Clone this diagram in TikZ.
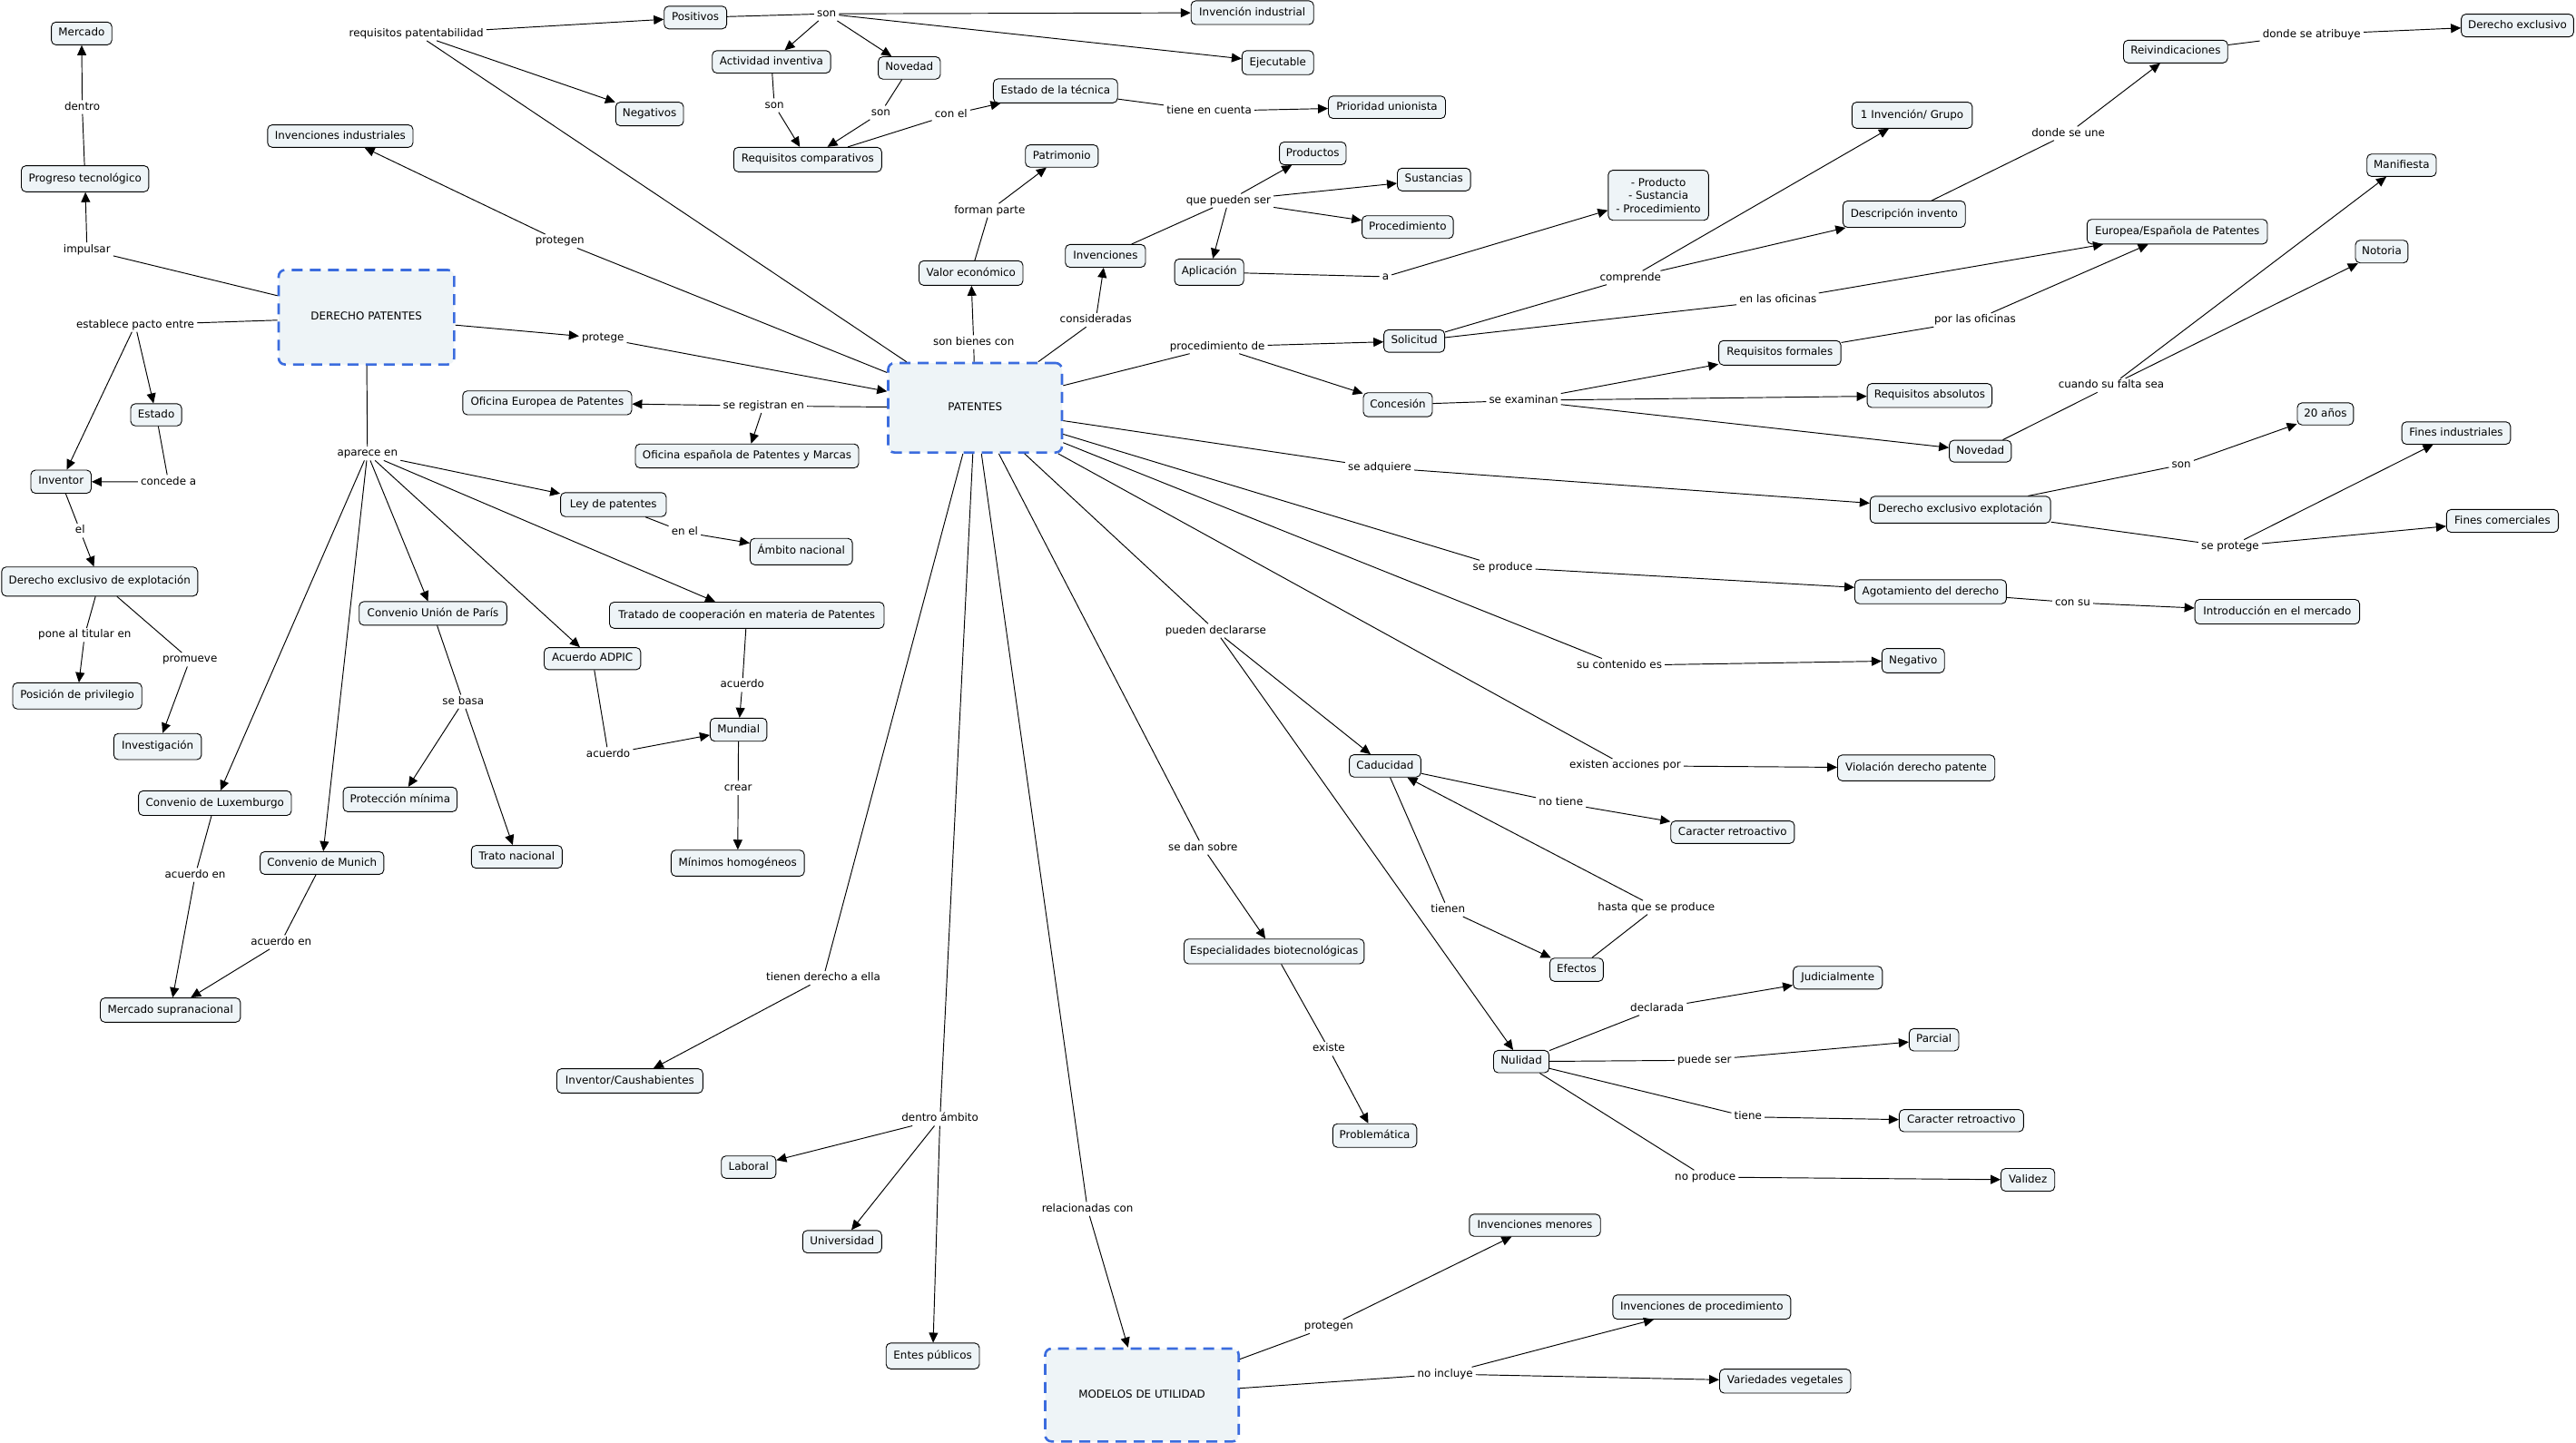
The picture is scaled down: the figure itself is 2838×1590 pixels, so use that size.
\documentclass[tikz,border=0pt]{standalone}
\usepackage{fontspec}
\setmainfont{DejaVu Sans}
\usetikzlibrary{arrows.meta}
\definecolor{nodefill}{RGB}{238,244,247}
\definecolor{hubblue}{RGB}{59,108,222}
\newcommand\myfs{\fontsize{11.9}{14.5}\selectfont}
\tikzset{
  boxbase/.style={draw=black, line width=0.9pt, fill=nodefill, rounded corners=5pt, inner sep=0pt, font=\myfs},
  cbox/.style={boxbase, text height=8.6pt, text depth=2.4pt},
  mbox/.style={boxbase, align=center},
  hub/.style={draw=hubblue, line width=2.6pt, dash pattern=on 12pt off 8pt, fill=nodefill, rounded corners=7pt, inner sep=0pt, font=\myfs, text height=8.6pt, text depth=2.4pt},
  lbl/.style={font=\myfs, text height=8.6pt, text depth=2.4pt, inner xsep=3pt, inner ysep=2pt},
  ln/.style={draw=black, line width=0.95pt},
  ar/.style={ln, -{Triangle[length=11pt,width=10pt]}},
}
\newcommand\mybx[7][cbox]{\node[#1,minimum width={(#5-#3)*1pt},minimum height={(#6-#4)*1pt}] (#2) at ({(#3+#5)/2},{(#4+#6)/2}) {#7};}
\newcommand\mylb[4]{\node[lbl] (#1) at (#2,#3) {#4};}
\begin{document}
\begin{tikzpicture}[x=1pt,y=-1pt]
\fill[white] (0,0) rectangle (2838,1590);
\useasboundingbox (0,0) rectangle (2838,1590);
% hubs
\mybx[hub]{dp}{307}{297.5}{500.3}{401.6}{DERECHO PATENTES}
\mybx[hub]{pat}{978.5}{400}{1170}{498.6}{PATENTES}
\mybx[hub]{mu}{1151.5}{1486}{1364.7}{1588.3}{MODELOS DE UTILIDAD}
% concept boxes
\mybx{mercado}{56.6}{24.3}{123.2}{49.4}{Mercado}
\mybx{progreso}{23.5}{182.6}{163.9}{211.3}{Progreso tecnológico}
\mybx{invind}{294.8}{137.6}{455}{162.3}{Invenciones industriales}
\mybx{negativos}{678.3}{112.6}{753}{138.6}{Negativos}
\mybx{estado}{144}{444.9}{200.1}{469.2}{Estado}
\mybx{inventor}{34}{518}{100.5}{543.5}{Inventor}
\mybx{dee}{1.8}{624.7}{217.8}{656.8}{Derecho exclusivo de explotación}
\mybx{posicion}{14}{752.4}{156.2}{781.2}{Posición de privilegio}
\mybx{investigacion}{125.4}{808.2}{221.9}{837}{Investigación}
\mybx{luxemburgo}{152.6}{871.4}{321}{898.5}{Convenio de Luxemburgo}
\mybx{munich}{286.6}{938.4}{422.9}{963.4}{Convenio de Munich}
\mybx{mercsup}{110.5}{1099.6}{264.9}{1126.3}{Mercado supranacional}
\mybx{paris}{395.7}{662.9}{558.3}{688.9}{Convenio Unión de París}
\mybx{proteccion}{378.1}{867.4}{503.5}{894.4}{Protección mínima}
\mybx{trato}{519.3}{931.6}{619.4}{956.6}{Trato nacional}
\mybx{adpic}{599.5}{713.6}{705.9}{737.9}{Acuerdo ADPIC}
\mybx{ley}{617.6}{542.8}{734}{569.2}{Ley de patentes}
\mybx{ambito}{826.4}{593.2}{939.1}{622.3}{Ámbito nacional}
\mybx{tratado}{671.5}{663.5}{974}{692.3}{Tratado de cooperación en materia de Patentes}
\mybx{mundial}{782.4}{791.3}{844.9}{816.7}{Mundial}
\mybx{minimos}{739.4}{936.7}{886.1}{965.4}{Mínimos homogéneos}
\mybx{ofeur}{509.8}{430.7}{696}{457}{Oficina Europea de Patentes}
\mybx{ofesp}{700}{489.2}{946}{515.6}{Oficina española de Patentes y Marcas}
\mybx{positivos}{731.7}{6.8}{800.6}{31.8}{Positivos}
\mybx{invind2}{1312.2}{0.9}{1447.2}{27}{Invención industrial}
\mybx{actinv}{784.7}{55.8}{915.1}{80.5}{Actividad inventiva}
\mybx{novedad1}{967.6}{62.5}{1036}{87.2}{Novedad}
\mybx{ejecutable}{1368.4}{55.8}{1447.2}{82.2}{Ejecutable}
\mybx{estadotec}{1094.4}{86.9}{1231.2}{113.3}{Estado de la técnica}
\mybx{reqcomp}{808.3}{162.3}{971.3}{189.3}{Requisitos comparativos}
\mybx{prioridad}{1463.5}{105.8}{1592.5}{130.5}{Prioridad unionista}
\mybx{patrimonio}{1129.7}{159.6}{1209.9}{184.2}{Patrimonio}
\mybx{valor}{1012.5}{287.4}{1127}{314.4}{Valor económico}
\mybx{invenciones}{1173.7}{269.4}{1262}{294.5}{Invenciones}
\mybx{aplicacion}{1294.1}{285.3}{1370.2}{314.4}{Aplicación}
\mybx{productos}{1409.6}{156.5}{1483}{181.5}{Productos}
\mybx{sustancias}{1539.5}{185.3}{1620.1}{210.3}{Sustancias}
\mybx{procedimiento}{1500.6}{237.7}{1601.1}{262.7}{Procedimiento}
\mybx[mbox]{pspx}{1771.8}{187.6}{1882.3}{242.7}{- Producto\\- Sustancia\\- Procedimiento}
\mybx{solicitud}{1524.6}{363.4}{1591.6}{388.1}{Solicitud}
\mybx{concesion}{1502}{432.7}{1578}{459.1}{Concesión}
\mybx{invgrupo}{2040.3}{112.6}{2172.9}{141.3}{1 Invención/ Grupo}
\mybx{descripcion}{2030.4}{221.4}{2165.2}{250.5}{Descripción invento}
\mybx{reqform}{1893.6}{375.3}{2028.1}{402.3}{Requisitos formales}
\mybx{reqabs}{2057.1}{422.6}{2194.6}{449}{Requisitos absolutos}
\mybx{reivind}{2339.5}{44.3}{2454.2}{69.3}{Reivindicaciones}
\mybx{dexcl}{2711.6}{15.6}{2835.3}{40.6}{Derecho exclusivo}
\mybx{eurespa}{2299.3}{241.7}{2498}{268.8}{Europea/Española de Patentes}
\mybx{manifiesta}{2607.7}{169.7}{2684}{194.4}{Manifiesta}
\mybx{notoria}{2595}{264.7}{2652.9}{289.7}{Notoria}
\mybx{novedad2}{2147.6}{485.1}{2215.8}{509.1}{Novedad}
\mybx{anos}{2531}{443.9}{2592.8}{468.2}{20 años}
\mybx{finind}{2646.1}{464.8}{2765.8}{489.5}{Fines industriales}
\mybx{dexpl}{2060.3}{546.9}{2259.1}{576.3}{Derecho exclusivo explotación}
\mybx{fincom}{2695.3}{561.4}{2818.6}{586.5}{Fines comerciales}
\mybx{agot}{2043.5}{638.9}{2210.4}{665.2}{Agotamiento del derecho}
\mybx{intro}{2418.1}{660.5}{2599.6}{687.5}{Introducción en el mercado}
\mybx{negativo}{2073.4}{714.6}{2142.2}{741.3}{Negativo}
\mybx{violacion}{2024.5}{831.9}{2197.7}{860.3}{Violación derecho patente}
\mybx{caducidad}{1486.6}{831.6}{1565.3}{856.2}{Caducidad}
\mybx{caracter1}{1840.7}{904.6}{1976.9}{929.3}{Caracter retroactivo}
\mybx{efectos}{1707.5}{1055.7}{1766.4}{1081.3}{Efectos}
\mybx{especial}{1304.5}{1034.7}{1502.9}{1062}{Especialidades biotecnológicas}
\mybx{problematica}{1468.4}{1238.2}{1560.8}{1264.2}{Problemática}
\mybx{nulidad}{1645.5}{1157.4}{1706.6}{1182}{Nulidad}
\mybx{judicial}{1975.6}{1064.7}{2073.8}{1089.8}{Judicialmente}
\mybx{parcial}{2103.3}{1133.4}{2158}{1158}{Parcial}
\mybx{caracter2}{2092.4}{1222.6}{2229.3}{1247}{Caracter retroactivo}
\mybx{validez}{2204.5}{1287.5}{2263.7}{1312.5}{Validez}
\mybx{invmen}{1618.8}{1337.9}{1763.2}{1362.2}{Invenciones menores}
\mybx{invproc}{1776.8}{1426.8}{1972.9}{1453.5}{Invenciones de procedimiento}
\mybx{variedades}{1894.5}{1508.6}{2039}{1535}{Variedades vegetales}
\mybx{causa}{613.5}{1177.6}{774.3}{1204.4}{Inventor/Caushabientes}
\mybx{laboral}{794.7}{1273.7}{854.9}{1298.3}{Laboral}
\mybx{universidad}{884.3}{1355.8}{971.3}{1380.5}{Universidad}
\mybx{entes}{976.2}{1479.9}{1079}{1508.3}{Entes públicos}
% linking phrases
\mylb{ldentro}{90.6}{118}{dentro}
\mylb{limpulsar}{95.8}{274.9}{impulsar}
\mylb{lest}{149}{358}{establece pacto entre}
\mylb{lconcede}{185.6}{531}{concede a}
\mylb{lel}{88.3}{584.8}{el}
\mylb{lpone}{93.3}{699.7}{pone al titular en}
\mylb{lpromueve}{209.2}{726.8}{promueve}
\mylb{laparece}{404.8}{499.7}{aparece en}
\mylb{lenel}{754.4}{586.5}{en el}
\mylb{lsebasa}{510.3}{773.1}{se basa}
\mylb{lacua}{670.1}{830.9}{acuerdo}
\mylb{lacub}{817.8}{754.8}{acuerdo}
\mylb{lcrear}{813.2}{868.4}{crear}
\mylb{lacena}{215.1}{964.1}{acuerdo en}
\mylb{lacenb}{309.7}{1038.1}{acuerdo en}
\mylb{lprotegen}{616.7}{265.7}{protegen}
\mylb{lprotege}{664.2}{372.6}{protege}
\mylb{lreq}{458.7}{37.2}{requisitos patentabilidad}
\mylb{lsona}{910.6}{15.2}{son}
\mylb{lsonb}{853.1}{116}{son}
\mylb{lsonc}{970.4}{124.1}{son}
\mylb{lconel}{1047.8}{126.1}{con el}
\mylb{ltiene}{1332.1}{122.4}{tiene en cuenta}
\mylb{lregistran}{841.3}{447.3}{se registran en}
\mylb{lbienes}{1072.7}{377}{son bienes con}
\mylb{lforman}{1090.3}{231.9}{forman parte}
\mylb{lconsid}{1207.2}{352.6}{consideradas}
\mylb{lpueden}{1353.4}{221.1}{que pueden ser}
\mylb{la}{1526.4}{304.9}{a}
\mylb{lproc}{1341.2}{382}{procedimiento de}
\mylb{lcomprende}{1796.3}{306}{comprende}
\mylb{lenlas}{1958.8}{330.6}{en las oficinas}
\mylb{lporlas}{2176}{352.6}{por las oficinas}
\mylb{lune}{2278.6}{147}{donde se une}
\mylb{latribuye}{2546.8}{37.9}{donde se atribuye}
\mylb{lexaminan}{1678.5}{441.2}{se examinan}
\mylb{lcuando}{2326}{424.6}{cuando su falta sea}
\mylb{ladquiere}{1520}{515.2}{se adquiere}
\mylb{lsond}{2403.2}{512.2}{son}
\mylb{lseprot}{2456.9}{602.3}{se protege}
\mylb{lproduce}{1655.5}{625}{se produce}
\mylb{lconsu}{2283.5}{663.9}{con su}
\mylb{lcontenido}{1784}{733.2}{su contenido es}
\mylb{lacciones}{1790.4}{843.7}{existen acciones por}
\mylb{ldeclararse}{1339.4}{695}{pueden declararse}
\mylb{lnotiene}{1719.7}{884.6}{no tiene}
\mylb{ltienen}{1595.2}{1002.3}{tienen}
\mylb{lhasta}{1824.8}{999.9}{hasta que se produce}
\mylb{ldan}{1325.3}{934}{se dan sobre}
\mylb{lexiste}{1463.9}{1155.7}{existe}
\mylb{ldeclarada}{1825.7}{1111}{declarada}
\mylb{lpuede}{1877.8}{1168.2}{puede ser}
\mylb{ltieneb}{1925.8}{1230.7}{tiene}
\mylb{lnoprod}{1878.7}{1297}{no produce}
\mylb{lderecho}{907}{1077.6}{tienen derecho a ella}
\mylb{lambito}{1035.6}{1232.8}{dentro ámbito}
\mylb{lrelac}{1198.1}{1332.1}{relacionadas con}
\mylb{lprotegenb}{1463.9}{1461.6}{protegen}
\mylb{lnoincl}{1592.1}{1514}{no incluye}
% connectors
\draw[ln] (progreso) -- (ldentro); \draw[ar] (ldentro) -- (mercado);
\draw[ln] (dp) -- (limpulsar); \draw[ar] (limpulsar) -- (progreso);
\draw[ln] (dp) -- (lest); \draw[ar] (lest) -- (inventor); \draw[ar] (lest) -- (estado);
\draw[ln] (estado) -- (lconcede); \draw[ar] (lconcede) -- (inventor);
\draw[ln] (inventor) -- (lel); \draw[ar] (lel) -- (dee);
\draw[ln] (dee) -- (lpone); \draw[ar] (lpone) -- (posicion);
\draw[ln] (dee) -- (lpromueve); \draw[ar] (lpromueve) -- (investigacion);
\draw[ln] (dp) -- (laparece);
\foreach \t in {ley,paris,adpic,tratado,luxemburgo,munich} \draw[ar] (laparece) -- (\t);
\draw[ln] (ley) -- (lenel); \draw[ar] (lenel) -- (ambito);
\draw[ln] (paris) -- (lsebasa); \draw[ar] (lsebasa) -- (proteccion); \draw[ar] (lsebasa) -- (trato);
\draw[ln] (adpic) -- (lacua); \draw[ar] (lacua) -- (mundial);
\draw[ln] (tratado) -- (lacub); \draw[ar] (lacub) -- (mundial);
\draw[ln] (mundial) -- (lcrear); \draw[ar] (lcrear) -- (minimos);
\draw[ln] (luxemburgo) -- (lacena); \draw[ar] (lacena) -- (mercsup);
\draw[ln] (munich) -- (lacenb); \draw[ar] (lacenb) -- (mercsup);
\draw[ln] (pat) -- (lprotegen); \draw[ar] (lprotegen) -- (invind);
\draw[ar] (dp) -- (lprotege); \draw[ar] (lprotege) -- (pat);
\draw[ln] (pat) -- (lreq); \draw[ar] (lreq) -- (positivos); \draw[ar] (lreq) -- (negativos);
\draw[ln] (positivos) -- (lsona);
\foreach \t in {invind2,actinv,novedad1,ejecutable} \draw[ar] (lsona) -- (\t);
\draw[ln] (actinv) -- (lsonb); \draw[ar] (lsonb) -- (reqcomp);
\draw[ln] (novedad1) -- (lsonc); \draw[ar] (lsonc) -- (reqcomp);
\draw[ln] (reqcomp) -- (lconel); \draw[ar] (lconel) -- (estadotec);
\draw[ln] (estadotec) -- (ltiene); \draw[ar] (ltiene) -- (prioridad);
\draw[ln] (pat) -- (lregistran); \draw[ar] (lregistran) -- (ofeur); \draw[ar] (lregistran) -- (ofesp);
\draw[ln] (pat) -- (lbienes); \draw[ar] (lbienes) -- (valor);
\draw[ln] (valor) -- (lforman); \draw[ar] (lforman) -- (patrimonio);
\draw[ln] (pat) -- (lconsid); \draw[ar] (lconsid) -- (invenciones);
\draw[ln] (invenciones) -- (lpueden);
\foreach \t in {productos,sustancias,procedimiento,aplicacion} \draw[ar] (lpueden) -- (\t);
\draw[ln] (aplicacion) -- (la); \draw[ar] (la) -- (pspx);
\draw[ln] (pat) -- (lproc); \draw[ar] (lproc) -- (solicitud); \draw[ar] (lproc) -- (concesion);
\draw[ln] (solicitud) -- (lcomprende); \draw[ar] (lcomprende) -- (invgrupo); \draw[ar] (lcomprende) -- (descripcion);
\draw[ln] (solicitud) -- (lenlas); \draw[ar] (lenlas) -- (eurespa);
\draw[ln] (reqform) -- (lporlas); \draw[ar] (lporlas) -- (eurespa);
\draw[ln] (descripcion) -- (lune); \draw[ar] (lune) -- (reivind);
\draw[ln] (reivind) -- (latribuye); \draw[ar] (latribuye) -- (dexcl);
\draw[ln] (concesion) -- (lexaminan);
\foreach \t in {reqform,reqabs,novedad2} \draw[ar] (lexaminan) -- (\t);
\draw[ln] (novedad2) -- (lcuando); \draw[ar] (lcuando) -- (manifiesta); \draw[ar] (lcuando) -- (notoria);
\draw[ln] (pat) -- (ladquiere); \draw[ar] (ladquiere) -- (dexpl);
\draw[ln] (dexpl) -- (lsond); \draw[ar] (lsond) -- (anos);
\draw[ln] (dexpl) -- (lseprot); \draw[ar] (lseprot) -- (finind); \draw[ar] (lseprot) -- (fincom);
\draw[ln] (pat) -- (lproduce); \draw[ar] (lproduce) -- (agot);
\draw[ln] (agot) -- (lconsu); \draw[ar] (lconsu) -- (intro);
\draw[ln] (pat) -- (lcontenido); \draw[ar] (lcontenido) -- (negativo);
\draw[ln] (pat) -- (lacciones); \draw[ar] (lacciones) -- (violacion);
\draw[ln] (pat) -- (ldeclararse); \draw[ar] (ldeclararse) -- (caducidad); \draw[ar] (ldeclararse) -- (nulidad);
\draw[ln] (caducidad) -- (lnotiene); \draw[ar] (lnotiene) -- (caracter1);
\draw[ln] (caducidad) -- (ltienen); \draw[ar] (ltienen) -- (efectos);
\draw[ln] (efectos) -- (lhasta); \draw[ar] (lhasta) -- (caducidad);
\draw[ln] (pat) -- (ldan); \draw[ar] (ldan) -- (especial);
\draw[ln] (especial) -- (lexiste); \draw[ar] (lexiste) -- (problematica);
\draw[ln] (nulidad) -- (ldeclarada); \draw[ar] (ldeclarada) -- (judicial);
\draw[ln] (nulidad) -- (lpuede); \draw[ar] (lpuede) -- (parcial);
\draw[ln] (nulidad) -- (ltieneb); \draw[ar] (ltieneb) -- (caracter2);
\draw[ln] (nulidad) -- (lnoprod); \draw[ar] (lnoprod) -- (validez);
\draw[ln] (pat) -- (lderecho); \draw[ar] (lderecho) -- (causa);
\draw[ln] (pat) -- (lambito);
\foreach \t in {laboral,universidad,entes} \draw[ar] (lambito) -- (\t);
\draw[ln] (pat) -- (lrelac); \draw[ar] (lrelac) -- (mu);
\draw[ln] (mu) -- (lprotegenb); \draw[ar] (lprotegenb) -- (invmen);
\draw[ln] (mu) -- (lnoincl); \draw[ar] (lnoincl) -- (invproc); \draw[ar] (lnoincl) -- (variedades);
\end{tikzpicture}
\end{document}
